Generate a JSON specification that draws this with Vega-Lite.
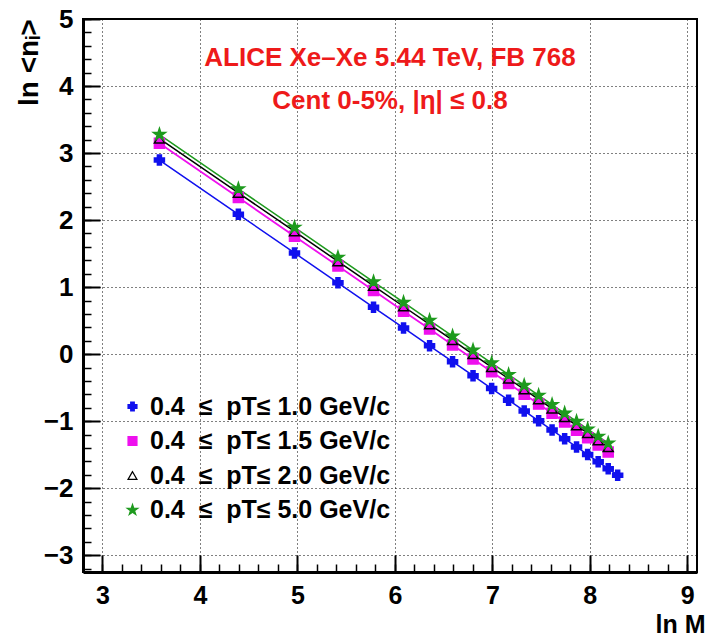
{
  "$schema": "https://vega.github.io/schema/vega-lite/v6.json",
  "width": 614,
  "height": 553,
  "autosize": {"type": "none"},
  "padding": {"left": 83, "top": 19, "right": 15, "bottom": 64},
  "background": "white",
  "config": {
    "view": {"stroke": "black", "strokeWidth": 2},
    "font": "Liberation Sans",
    "legend": {
      "orient": "none",
      "legendX": 37,
      "legendY": 375,
      "padding": 0,
      "title": null,
      "labelFont": "Liberation Sans",
      "labelFontSize": 25,
      "labelFontWeight": "bold",
      "labelColor": "black",
      "labelLimit": 0,
      "labelOffset": 5,
      "rowPadding": 8.5,
      "symbolSize": 80,
      "symbolStrokeWidth": 1.2
    }
  },
  "title": {
    "text": "ALICE Xe–Xe 5.44 TeV, FB 768",
    "subtitle": "Cent 0-5%, |η| ≤ 0.8",
    "anchor": "middle",
    "frame": "group",
    "orient": "top",
    "offset": -108,
    "color": "#ee1a1a",
    "font": "Liberation Sans",
    "fontSize": 26,
    "fontWeight": "bold",
    "subtitleColor": "#ee1a1a",
    "subtitleFont": "Liberation Sans",
    "subtitleFontSize": 26,
    "subtitleFontWeight": "bold",
    "subtitlePadding": 17
  },
  "datasets": {
    "pts": [
      {"s": "1.0", "x": 3.584, "y": 2.896},
      {"s": "1.0", "x": 4.394, "y": 2.086},
      {"s": "1.0", "x": 4.970, "y": 1.510},
      {"s": "1.0", "x": 5.416, "y": 1.064},
      {"s": "1.0", "x": 5.781, "y": 0.699},
      {"s": "1.0", "x": 6.089, "y": 0.391},
      {"s": "1.0", "x": 6.356, "y": 0.124},
      {"s": "1.0", "x": 6.592, "y": -0.112},
      {"s": "1.0", "x": 6.802, "y": -0.322},
      {"s": "1.0", "x": 6.993, "y": -0.513},
      {"s": "1.0", "x": 7.167, "y": -0.687},
      {"s": "1.0", "x": 7.327, "y": -0.847},
      {"s": "1.0", "x": 7.475, "y": -0.995},
      {"s": "1.0", "x": 7.613, "y": -1.133},
      {"s": "1.0", "x": 7.742, "y": -1.262},
      {"s": "1.0", "x": 7.864, "y": -1.384},
      {"s": "1.0", "x": 7.978, "y": -1.498},
      {"s": "1.0", "x": 8.086, "y": -1.606},
      {"s": "1.0", "x": 8.189, "y": -1.709},
      {"s": "1.0", "x": 8.286, "y": -1.806},
      {"s": "1.5", "x": 3.584, "y": 3.146},
      {"s": "1.5", "x": 4.394, "y": 2.336},
      {"s": "1.5", "x": 4.970, "y": 1.760},
      {"s": "1.5", "x": 5.416, "y": 1.314},
      {"s": "1.5", "x": 5.781, "y": 0.949},
      {"s": "1.5", "x": 6.089, "y": 0.641},
      {"s": "1.5", "x": 6.356, "y": 0.374},
      {"s": "1.5", "x": 6.592, "y": 0.138},
      {"s": "1.5", "x": 6.802, "y": -0.072},
      {"s": "1.5", "x": 6.993, "y": -0.263},
      {"s": "1.5", "x": 7.167, "y": -0.437},
      {"s": "1.5", "x": 7.327, "y": -0.597},
      {"s": "1.5", "x": 7.475, "y": -0.745},
      {"s": "1.5", "x": 7.613, "y": -0.883},
      {"s": "1.5", "x": 7.742, "y": -1.012},
      {"s": "1.5", "x": 7.864, "y": -1.134},
      {"s": "1.5", "x": 7.978, "y": -1.248},
      {"s": "1.5", "x": 8.086, "y": -1.356},
      {"s": "1.5", "x": 8.189, "y": -1.459},
      {"s": "2.0", "x": 3.584, "y": 3.216},
      {"s": "2.0", "x": 4.394, "y": 2.406},
      {"s": "2.0", "x": 4.970, "y": 1.830},
      {"s": "2.0", "x": 5.416, "y": 1.384},
      {"s": "2.0", "x": 5.781, "y": 1.019},
      {"s": "2.0", "x": 6.089, "y": 0.711},
      {"s": "2.0", "x": 6.356, "y": 0.444},
      {"s": "2.0", "x": 6.592, "y": 0.208},
      {"s": "2.0", "x": 6.802, "y": -0.002},
      {"s": "2.0", "x": 6.993, "y": -0.193},
      {"s": "2.0", "x": 7.167, "y": -0.367},
      {"s": "2.0", "x": 7.327, "y": -0.527},
      {"s": "2.0", "x": 7.475, "y": -0.675},
      {"s": "2.0", "x": 7.613, "y": -0.813},
      {"s": "2.0", "x": 7.742, "y": -0.942},
      {"s": "2.0", "x": 7.864, "y": -1.064},
      {"s": "2.0", "x": 7.978, "y": -1.178},
      {"s": "2.0", "x": 8.086, "y": -1.286},
      {"s": "2.0", "x": 8.189, "y": -1.389},
      {"s": "5.0", "x": 3.584, "y": 3.276},
      {"s": "5.0", "x": 4.394, "y": 2.466},
      {"s": "5.0", "x": 4.970, "y": 1.890},
      {"s": "5.0", "x": 5.416, "y": 1.444},
      {"s": "5.0", "x": 5.781, "y": 1.079},
      {"s": "5.0", "x": 6.089, "y": 0.771},
      {"s": "5.0", "x": 6.356, "y": 0.504},
      {"s": "5.0", "x": 6.592, "y": 0.268},
      {"s": "5.0", "x": 6.802, "y": 0.058},
      {"s": "5.0", "x": 6.993, "y": -0.133},
      {"s": "5.0", "x": 7.167, "y": -0.307},
      {"s": "5.0", "x": 7.327, "y": -0.467},
      {"s": "5.0", "x": 7.475, "y": -0.615},
      {"s": "5.0", "x": 7.613, "y": -0.753},
      {"s": "5.0", "x": 7.742, "y": -0.882},
      {"s": "5.0", "x": 7.864, "y": -1.004},
      {"s": "5.0", "x": 7.978, "y": -1.118},
      {"s": "5.0", "x": 8.086, "y": -1.226},
      {"s": "5.0", "x": 8.189, "y": -1.329}
    ]
  },
  "layer": [
    {
      "data": {"name": "pts"},
      "mark": {"type": "point", "opacity": 0},
      "encoding": {
        "x": {
          "field": "x", "type": "quantitative",
          "scale": {"domain": [2.8, 9.1], "nice": false, "zero": false},
          "axis": {
            "orient": "bottom",
            "values": [2.8,3,3.2,3.4,3.6,3.8,4,4.2,4.4,4.6,4.8,5,5.2,5.4,5.6,5.8,6,6.2,6.4,6.6,6.8,7,7.2,7.4,7.6,7.8,8,8.2,8.4,8.6,8.8,9],
            "labels": false, "domain": false, "grid": false, "title": null,
            "ticks": true, "tickSize": -8, "tickColor": "black", "tickWidth": 1.5
          }
        },
        "y": {
          "field": "y", "type": "quantitative",
          "scale": {"domain": [-3.25, 5], "nice": false, "zero": false},
          "axis": {
            "orient": "left",
            "values": [-3.2,-3,-2.8,-2.6,-2.4,-2.2,-2,-1.8,-1.6,-1.4,-1.2,-1,-0.8,-0.6,-0.4,-0.2,0,0.2,0.4,0.6,0.8,1,1.2,1.4,1.6,1.8,2,2.2,2.4,2.6,2.8,3,3.2,3.4,3.6,3.8,4,4.2,4.4,4.6,4.8,5],
            "labels": false, "domain": false, "grid": false, "title": null,
            "ticks": true, "tickSize": -8, "tickColor": "black", "tickWidth": 1.5
          }
        }
      }
    },
    {
      "data": {"name": "pts"},
      "encoding": {
        "x": {
          "field": "x", "type": "quantitative",
          "scale": {"domain": [2.8, 9.1], "nice": false, "zero": false},
          "axis": {
            "orient": "bottom",
            "values": [3,4,5,6,7,8,9],
            "labelFont": "Liberation Sans", "labelFontSize": 25, "labelFontWeight": "bold", "labelColor": "black",
            "labelPadding": 28, "labelOverlap": false, "labelFlush": false,
            "domain": true, "domainColor": "black", "domainWidth": 3,
            "ticks": true, "tickSize": -17, "tickColor": "black", "tickWidth": 2,
            "grid": true, "gridColor": "black", "gridDash": [1, 3], "gridWidth": 1, "gridOpacity": 1,
            "title": "ln M",
            "titleFont": "Liberation Sans", "titleFontSize": 25, "titleFontWeight": "bold", "titleColor": "black",
            "titleX": 622, "titleY": 60, "titleAlign": "right", "titleBaseline": "alphabetic"
          }
        },
        "y": {
          "field": "y", "type": "quantitative",
          "scale": {"domain": [-3.25, 5], "nice": false, "zero": false},
          "axis": {
            "orient": "left",
            "values": [-3,-2,-1,0,1,2,3,4,5],
            "labelFont": "Liberation Sans", "labelFontSize": 26, "labelFontWeight": "bold", "labelColor": "black",
            "labelPadding": 27, "labelOverlap": false, "labelFlush": false,
            "domain": true, "domainColor": "black", "domainWidth": 3,
            "ticks": true, "tickSize": -17, "tickColor": "black", "tickWidth": 2,
            "grid": true, "gridColor": "black", "gridDash": [1, 3], "gridWidth": 1, "gridOpacity": 1,
            "title": "ln <nᵢ>",
            "titleFont": "Liberation Sans", "titleFontSize": 28, "titleFontWeight": "bold", "titleColor": "black",
            "titleAngle": 270, "titleX": -46, "titleY": 0, "titleAlign": "right", "titleBaseline": "alphabetic"
          }
        }
      },
      "layer": [
        {
          "transform": [{"filter": "datum.s == '1.0'"}],
          "mark": {"type": "line", "strokeWidth": 1.5, "color": "#1010ee"}
        },
        {
          "transform": [{"filter": "datum.s == '1.5'"}],
          "mark": {"type": "line", "strokeWidth": 1.8, "color": "#ee10ee"}
        },
        {
          "transform": [{"filter": "datum.s == '2.0'"}],
          "mark": {"type": "line", "strokeWidth": 1.5, "color": "#000000"}
        },
        {
          "transform": [{"filter": "datum.s == '5.0'"}],
          "mark": {"type": "line", "strokeWidth": 1.5, "color": "#1e9a1e"}
        },
        {
          "mark": {"type": "point", "filled": false, "strokeWidth": 1.5, "opacity": 1, "size": 100},
          "encoding": {
            "shape": {
              "field": "s", "type": "nominal",
              "scale": {"domain": ["1.0", "1.5", "2.0", "5.0"], "range": ["cross", "square", "triangle-up", "M0,-1.25L0.28,-0.39L1.19,-0.39L0.45,0.15L0.73,1.01L0,0.48L-0.73,1.01L-0.45,0.15L-1.19,-0.39L-0.28,-0.39Z"]},
              "legend": {"labelExpr": "'0.4\u00a0 ≤\u00a0 pT≤ ' + datum.label + ' GeV/c'"}
            },
            "fill": {
              "field": "s", "type": "nominal",
              "scale": {"domain": ["1.0", "1.5", "2.0", "5.0"], "range": ["#1010ee", "#ee10ee", "transparent", "#1e9a1e"]},
              "legend": {"labelExpr": "'0.4\u00a0 ≤\u00a0 pT≤ ' + datum.label + ' GeV/c'"}
            },
            "stroke": {
              "field": "s", "type": "nominal",
              "scale": {"domain": ["1.0", "1.5", "2.0", "5.0"], "range": ["#1010ee", "#ee10ee", "#000000", "#1e9a1e"]},
              "legend": {"labelExpr": "'0.4\u00a0 ≤\u00a0 pT≤ ' + datum.label + ' GeV/c'"}
            }
          }
        }
      ]
    }
  ],
  "resolve": {"scale": {"x": "independent", "y": "independent"}, "axis": {"x": "independent", "y": "independent"}}
}
